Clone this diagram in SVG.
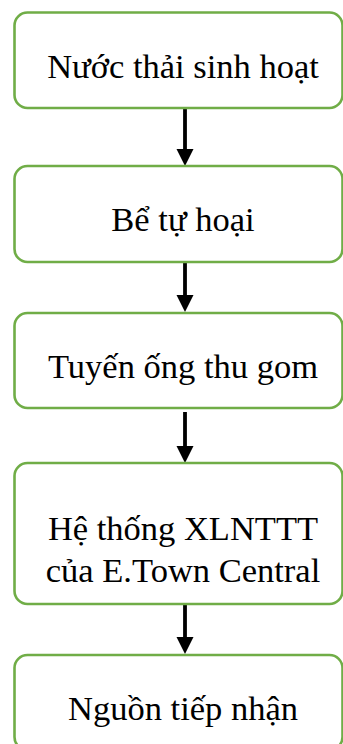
<svg xmlns="http://www.w3.org/2000/svg" width="343" height="744" viewBox="0 0 343 744">
  <style>
    .box { fill: #ffffff; stroke: #70ad47; stroke-width: 2.6; }
    .label { font-family: "Liberation Serif", "Times New Roman", serif; font-size: 34.5px; fill: #000000; text-anchor: middle; }
    .shaft { stroke: #000000; stroke-width: 3.8; fill: none; }
    .head { fill: #000000; }
  </style>
  <rect width="343" height="744" fill="#ffffff"/>

  <!-- vertical flow arrows between consecutive boxes -->
  <g id="connectors">
    <line class="shaft" x1="185" y1="108" x2="185" y2="150"/>
    <polygon class="head" points="176.5,149 193.5,149 185,166"/>
    <line class="shaft" x1="185" y1="262" x2="185" y2="296"/>
    <polygon class="head" points="176.5,295 193.5,295 185,312"/>
    <line class="shaft" x1="185" y1="412" x2="185" y2="447"/>
    <polygon class="head" points="176.5,446 193.5,446 185,463"/>
    <line class="shaft" x1="185" y1="604" x2="185" y2="638"/>
    <polygon class="head" points="176.5,637 193.5,637 185,654"/>
  </g>

  <g id="node-nuoc-thai">
    <rect class="box" x="14.5" y="12.5" width="328" height="95.5" rx="13" ry="13"/>
    <text class="label" x="183" y="77.5">Nước thải sinh hoạt</text>
  </g>

  <g id="node-be-tu-hoai">
    <rect class="box" x="14.5" y="166" width="328" height="96" rx="13" ry="13"/>
    <text class="label" x="183" y="230.5">Bể tự hoại</text>
  </g>

  <g id="node-tuyen-ong">
    <rect class="box" x="14.5" y="313" width="328" height="95" rx="13" ry="13"/>
    <text class="label" x="183" y="378">Tuyến ống thu gom</text>
  </g>

  <g id="node-he-thong">
    <rect class="box" x="14.5" y="463" width="328" height="141" rx="13" ry="13"/>
    <text class="label" x="183" y="540">Hệ thống XLNTTT</text>
    <text class="label" x="183" y="582">của E.Town Central</text>
  </g>

  <g id="node-nguon-tiep-nhan">
    <rect class="box" x="14.5" y="655" width="328" height="95" rx="13" ry="13"/>
    <text class="label" x="183" y="720">Nguồn tiếp nhận</text>
  </g>
</svg>
